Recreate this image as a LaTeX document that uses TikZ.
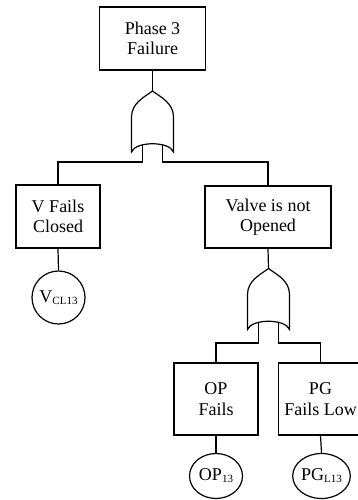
\documentclass[tikz,border=0pt]{standalone}
\usepackage{fontspec}
\setmainfont{Liberation Serif}
\usetikzlibrary{shapes.geometric}
\newcommand{\evsub}[1]{{\fontsize{11}{12}\selectfont\raisebox{-2pt}{#1}}}
\begin{document}
\begin{tikzpicture}[x=1pt,y=-1pt,line width=1.2pt,
  box/.style={draw,rectangle,align=center,inner sep=0pt,font=\fontsize{18}{20.5}\selectfont},
  ev/.style={draw,circle,inner sep=0pt,minimum size=53pt,font=\fontsize{18}{20}\selectfont},
  evb/.style={draw,ellipse,inner sep=0pt,minimum width=53pt,minimum height=45pt,font=\fontsize{18}{20}\selectfont},
  orgate/.pic={
    \draw (0,0) .. controls (-8,6) and (-21,12) .. (-21,26) -- (-21,61)
      .. controls (-17,50) and (17,50) .. (21,61) -- (21,26)
      .. controls (21,12) and (8,6) .. (0,0) -- cycle;
    \coordinate (-out) at (0,0);
    \coordinate (-in1) at (-10,53.5);
    \coordinate (-in2) at (10,53.5);
  }]
\clip (0,0) rectangle (358,500);
\node[box,minimum width=106.5pt,minimum height=63pt] (top) at (152.5,38.5) {Phase 3\\Failure};
\node[box,minimum width=84pt,minimum height=63pt] (vf) at (58,216.5) {V Fails\\Closed};
\node[box,minimum width=126pt,minimum height=62pt] (vn) at (268,217) {Valve is not\\Opened};
\node[box,minimum width=84pt,minimum height=72pt] (op) at (216,399) {OP\\Fails};
\node[box,minimum width=84pt,minimum height=72pt] (pg) at (320.5,399) {PG\\Fails Low};
\node[ev] (vcl) at (58.5,297.5) {V\evsub{CL13}};
\node[evb] (op13) at (216,476) {OP\evsub{13}};
\node[evb] (pgl) at (321.5,476) {PG\evsub{L13}};
\pic (g1) at (152.5,91) {orgate};
\pic (g2) at (268.5,268.5) {orgate};
\draw (top.south) -- (g1-out);
\draw (g1-in1) -- ++(0,17.5) -| (vf.north);
\draw (g1-in2) -- ++(0,17.5) -| (vn.north);
\draw (vn.south) -- (g2-out);
\draw (g2-in1) -- ++(0,21) -| (op.north);
\draw (g2-in2) -- ++(0,21) -| (pg.north);
\draw (vf.south) -- (vcl.north);
\draw (op.south) -- (op13.north);
\draw (pg.south) -- (pgl.north);
\end{tikzpicture}
\end{document}
